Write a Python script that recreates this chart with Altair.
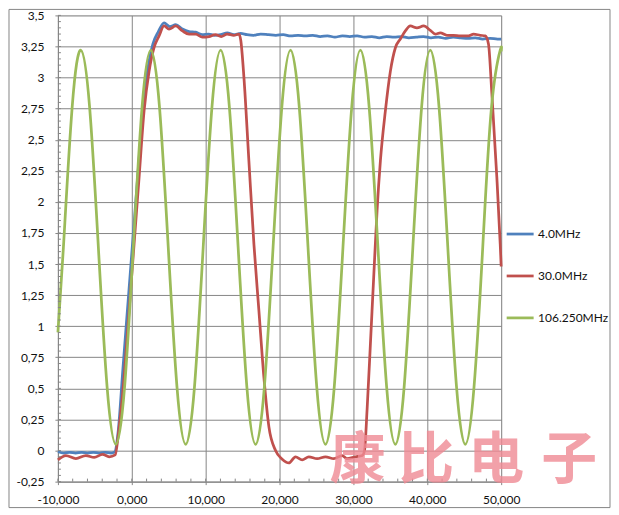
import altair as alt
import pandas as pd

# ---- data (x in thousands, as on the axis) ----
series_names = ["4.0MHz", "30.0MHz", "106.250MHz"]
series_colors = ["#4F81BD", "#C0504D", "#9BBB59"]

blue_x = [-10.0, -9.2, -8.4, -7.6, -6.8, -6.0, -5.2, -4.4, -3.6, -2.8, -2.3, -1.85, -1.2, -0.5,
          0.2, 0.9, 1.6, 2.3, 2.85, 3.6, 4.37, 5.15, 5.95, 6.85, 7.75, 8.65, 9.55, 10.4, 11.2,
          12.03, 12.93, 13.82, 14.73, 15.6, 16.5, 17.43, 18.5, 19.5, 20.5, 21.5, 22.5, 23.5,
          24.5, 25.5, 26.5, 27.5, 28.5, 29.5, 30.5, 31.5, 32.5, 33.5, 34.5, 35.5, 36.5, 37.5,
          38.5, 39.5, 40.5, 41.5, 42.5, 43.5, 44.5, 45.5, 46.5, 47.5, 48.5, 49.5, 50.0]
blue_y = [-0.01, -0.02, -0.015, -0.02, -0.015, -0.02, -0.015, -0.02, -0.015, -0.02, -0.01, 0.15,
          0.66, 1.2, 1.74, 2.28, 2.8, 3.12, 3.27, 3.37, 3.44, 3.41, 3.425, 3.39, 3.37, 3.365,
          3.345, 3.35, 3.34, 3.345, 3.36, 3.345, 3.355, 3.345, 3.34, 3.35, 3.345, 3.34, 3.345,
          3.335, 3.34, 3.335, 3.34, 3.33, 3.335, 3.325, 3.335, 3.33, 3.335, 3.325, 3.33, 3.32,
          3.33, 3.325, 3.33, 3.32, 3.325, 3.33, 3.32, 3.325, 3.315, 3.325, 3.32, 3.315, 3.32,
          3.31, 3.315, 3.31, 3.31]

red_x = [-10.0, -8.92, -7.57, -6.22, -5.09, -3.96, -3.06, -2.25, -1.71, -1.04, -0.36, 0.31, 0.99,
         1.66, 2.34, 3.01, 3.69, 4.37, 5.04, 5.95, 6.85, 7.75, 8.65, 9.55, 10.45, 11.3, 12.1, 12.9,
         13.8, 14.5, 14.75, 15.18, 15.85, 16.53, 17.2, 17.88, 18.56, 19.46, 20.36, 21.26, 22.16,
         23.06, 23.96, 25.09, 26.22, 27.34, 28.47, 29.1, 30.27, 31.2, 31.5, 31.85, 32.3, 32.74,
         33.2, 33.65, 34.32, 35.0, 35.68, 36.35, 37.03, 37.7, 38.6, 39.5, 40.41, 41.08, 41.76,
         42.66, 43.55, 44.46, 45.58, 46.26, 47.16, 47.84, 48.28, 48.74, 49.41, 49.87, 50.0]
red_y = [-0.075, -0.04, -0.065, -0.04, -0.055, -0.03, -0.05, -0.035, 0.19, 0.59, 1.13, 1.66, 2.2,
         2.73, 3.05, 3.24, 3.335, 3.415, 3.39, 3.415, 3.375, 3.35, 3.35, 3.325, 3.33, 3.345, 3.33,
         3.35, 3.34, 3.35, 3.3, 3.0, 2.33, 1.66, 1.13, 0.59, 0.19, 0.0, -0.07, -0.10, -0.05,
         -0.075, -0.05, -0.065, -0.05, -0.065, -0.04, -0.065, -0.05, -0.04, 0.0, 0.33, 0.86, 1.39,
         1.93, 2.33, 2.73, 3.05, 3.24, 3.31, 3.375, 3.415, 3.40, 3.415, 3.38, 3.35, 3.36, 3.34,
         3.34, 3.335, 3.335, 3.35, 3.34, 3.335, 3.27, 2.87, 2.2, 1.66, 1.48]

green_x = [-10.0, -9.255, -8.073, -6.89,
           -5.707, -4.525, -3.342, -2.16, -0.977, 0.205, 1.388, 2.57,
           3.753, 4.935, 6.118, 7.3, 8.483, 9.665, 10.848, 12.03,
           13.213, 14.395, 15.578, 16.76, 17.943, 19.125, 20.308, 21.49,
           22.673, 23.855, 25.038, 26.22, 27.403, 28.585, 29.768, 30.95,
           32.133, 33.315, 34.498, 35.68, 36.863, 38.045, 39.228, 40.41,
           41.593, 42.775, 43.958, 45.14, 46.323, 47.505, 48.688, 49.87,
           50.0]
green_y = [0.95, 1.635, 2.76, 3.22,
           2.76, 1.635, 0.51, 0.05, 0.51, 1.635, 2.76, 3.22,
           2.76, 1.635, 0.51, 0.05, 0.51, 1.635, 2.76, 3.22,
           2.76, 1.635, 0.51, 0.05, 0.51, 1.635, 2.76, 3.22,
           2.76, 1.635, 0.51, 0.05, 0.51, 1.635, 2.76, 3.22,
           2.76, 1.635, 0.51, 0.05, 0.51, 1.635, 2.76, 3.22,
           2.76, 1.635, 0.51, 0.05, 0.51, 1.635, 2.76, 3.22,
           3.21]

x_ticks = [-10, 0, 10, 20, 30, 40, 50]
y_ticks = [-0.25, 0, 0.25, 0.5, 0.75, 1, 1.25, 1.5, 1.75, 2, 2.25, 2.5, 2.75, 3, 3.25, 3.5]
x_minor = [v for v in range(-10, 51, 2)]
y_minor = [round(-0.25 + 0.05 * i, 2) for i in range(76)]

watermark_chars = ["康", "比", "电", "子"]

W, H = 444, 467
FONT = "Lato"
GRID = "#868686"

def frame(xs, ys, name):
    return pd.DataFrame({"x": xs, "y": ys, "series": name})

df_blue = frame(blue_x, blue_y, series_names[0])
df_red = frame(red_x, red_y, series_names[1])
df_green = frame(green_x, green_y, series_names[2])

x_scale = alt.Scale(domain=[-10, 50], nice=False, zero=False)
y_scale = alt.Scale(domain=[-0.25, 3.5], nice=False, zero=False)

x_axis = alt.Axis(values=x_ticks, title=None, grid=True, gridColor=GRID,
                  domainColor=GRID, tickColor=GRID, tickSize=3, labelPadding=10,
                  labelFlush=False, labelOverlap=False,
                  labelFont=FONT, labelFontSize=12, labelColor="#111111",
                  labelExpr="(datum.value < 0 ? '-' : '') + replace(format(abs(datum.value), '.3f'), '.', ',')")
y_axis = alt.Axis(values=y_ticks, title=None, grid=True, gridColor=GRID,
                  domainColor=GRID, tickColor=GRID, tickSize=3, labelPadding=11,
                  labelFlush=False, labelOverlap=False,
                  labelFont=FONT, labelFontSize=12, labelColor="#111111",
                  labelExpr="(datum.value < 0 ? '-' : '') + replace(format(abs(datum.value), '~g'), '.', ',')")

x_enc = alt.X("x:Q", scale=x_scale, axis=x_axis)
y_enc = alt.Y("y:Q", scale=y_scale, axis=y_axis)

color_enc = alt.Color("series:N",
                      scale=alt.Scale(domain=series_names, range=series_colors),
                      sort=series_names,
                      legend=alt.Legend(title=None, orient="none", legendX=448, legendY=204,
                                        symbolType="stroke", symbolSize=729, symbolStrokeWidth=2.75,
                                        labelFont=FONT, labelFontSize=12, labelColor="#111111",
                                        labelOffset=3, rowPadding=21, padding=0))

def line_layer(df, interp):
    return alt.Chart(df).mark_line(strokeWidth=2.75, interpolate=interp).encode(
        x=x_enc, y=y_enc, color=color_enc)

blue = line_layer(df_blue, "monotone")
red = line_layer(df_red, "monotone")
green = line_layer(df_green, "natural")

minor_x = alt.Chart(pd.DataFrame({"x": x_minor})).mark_rule(color=GRID, strokeWidth=1).encode(
    x=x_enc, y=alt.value(H), y2=alt.value(H - 3))
minor_y = alt.Chart(pd.DataFrame({"y": y_minor})).mark_rule(color=GRID, strokeWidth=1).encode(
    y=y_enc, x=alt.value(0), x2=alt.value(3))

border = alt.Chart(pd.DataFrame({"a": [0]})).mark_rect(
    fillOpacity=0, stroke=GRID, strokeWidth=1).encode(
    x=alt.value(-49), x2=alt.value(553), y=alt.value(-6), y2=alt.value(493))

wm_layers = []
wm_x = [300, 369, 439, 512]
for ch, px in zip(watermark_chars, wm_x):
    wm_layers.append(
        alt.Chart(pd.DataFrame({"t": [ch]})).mark_text(
            font="Noto Sans CJK SC", fontSize=56, fontWeight="bold",
            color="#f08a94", opacity=0.8, align="center", baseline="middle").encode(
            x=alt.value(px), y=alt.value(446), text="t:N"))

chart = alt.layer(blue, red, green, minor_x, minor_y, border, *wm_layers).properties(
    width=W, height=H, padding=0
).configure_view(strokeWidth=0).configure_axis(labelOverlap=False).configure(background="white")

chart.save("out.html", embed_options={"renderer": "svg", "actions": False})
